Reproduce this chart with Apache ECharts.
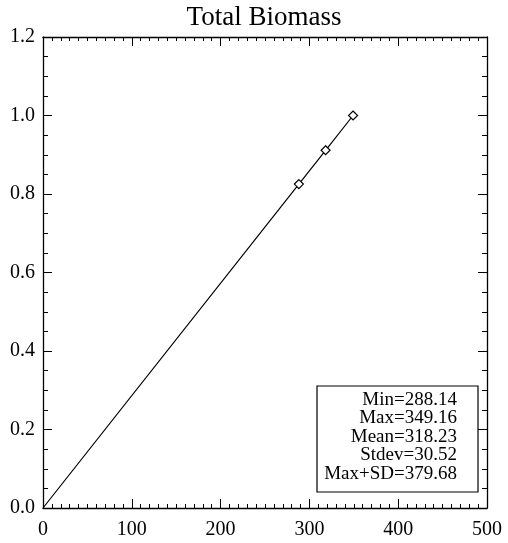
<!DOCTYPE html>
<html><head><meta charset="utf-8">
<script src="https://cdn.jsdelivr.net/npm/echarts@6/dist/echarts.min.js"></script>
<style>html,body{margin:0;padding:0;background:#fff}#c{width:508px;height:543px}</style>
</head><body><div id="c"></div>
<script>
const title = 'Total Biomass';
const xValues = [0, 288.14, 318.23, 349.16];
const yValues = [0, 0.8252, 0.9114, 1.0];
const markerFlags = [false, true, true, true];
const statsLabels = ['Min=288.14', 'Max=349.16', 'Mean=318.23', 'Stdev=30.52', 'Max+SD=379.68'];
const xTicks = [0, 100, 200, 300, 400, 500];
const yTicks = [0.0, 0.2, 0.4, 0.6, 0.8, 1.0, 1.2];

const font = '"Liberation Serif", "DejaVu Serif", serif';
const chart = echarts.init(document.getElementById('c'));
const axisCommon = {
  axisLine: {show: true, onZero: false, lineStyle: {color: '#000', width: 1.3}},
  splitLine: {show: false},
};
const xAxisBase = Object.assign({}, axisCommon, {
  type: 'value', min: xTicks[0], max: xTicks[xTicks.length-1], interval: 100,
  axisTick: {show: true, inside: true, length: 9, lineStyle: {color: '#000'}},
  minorTick: {show: true, splitNumber: 10, length: 4, lineStyle: {color: '#000'}},
});
const yAxisBase = Object.assign({}, axisCommon, {
  type: 'value', min: yTicks[0], max: yTicks[yTicks.length-1], interval: 0.2,
  axisTick: {show: true, inside: true, length: 9, lineStyle: {color: '#000'}},
  minorTick: {show: true, splitNumber: 4, length: 5, lineStyle: {color: '#000'}},
});
const data = xValues.map((x, i) => ({
  value: [x, yValues[i]],
  symbol: markerFlags[i] ? 'diamond' : 'none'
}));
const statsRight = 457, statsFirstMid = 400, statsStep = 18.5;
const graphics = [
  {type: 'text', x: 264, y: 18,
    style: {text: title, align: 'center', verticalAlign: 'middle', fontFamily: font, fontSize: 27, fill: '#000'}},
  {type: 'rect', shape: {x: 317, y: 386, width: 161, height: 106},
    style: {fill: '#fff', stroke: '#000', lineWidth: 1.2}, z: 10}
].concat(statsLabels.map((s, i) => ({
  type: 'text', x: statsRight, y: statsFirstMid + i * statsStep, z: 11,
  style: {text: s, align: 'right', verticalAlign: 'middle', fontFamily: font, fontSize: 19, fill: '#000'}
})));
chart.setOption({
  animation: false,
  grid: {left: 43, right: 21, top: 37, bottom: 35, containLabel: false},
  xAxis: [
    Object.assign({}, xAxisBase, {position: 'bottom',
      axisLabel: {show: true, color: '#000', fontFamily: font, fontSize: 20, margin: 12,
        formatter: v => String(v)}}),
    Object.assign({}, xAxisBase, {position: 'top', axisLabel: {show: false}})
  ],
  yAxis: [
    Object.assign({}, yAxisBase, {position: 'left',
      axisLabel: {show: true, color: '#000', fontFamily: font, fontSize: 20, margin: 8,
        formatter: v => v.toFixed(1)}}),
    Object.assign({}, yAxisBase, {position: 'right', axisLabel: {show: false}})
  ],
  series: [{
    type: 'line', data: data, xAxisIndex: 0, yAxisIndex: 0,
    symbolSize: [9, 9], showAllSymbol: true,
    lineStyle: {color: '#000', width: 1.2},
    itemStyle: {color: '#fff', borderColor: '#000', borderWidth: 1.2},
    z: 3
  }],
  graphic: graphics
});
</script></body></html>
